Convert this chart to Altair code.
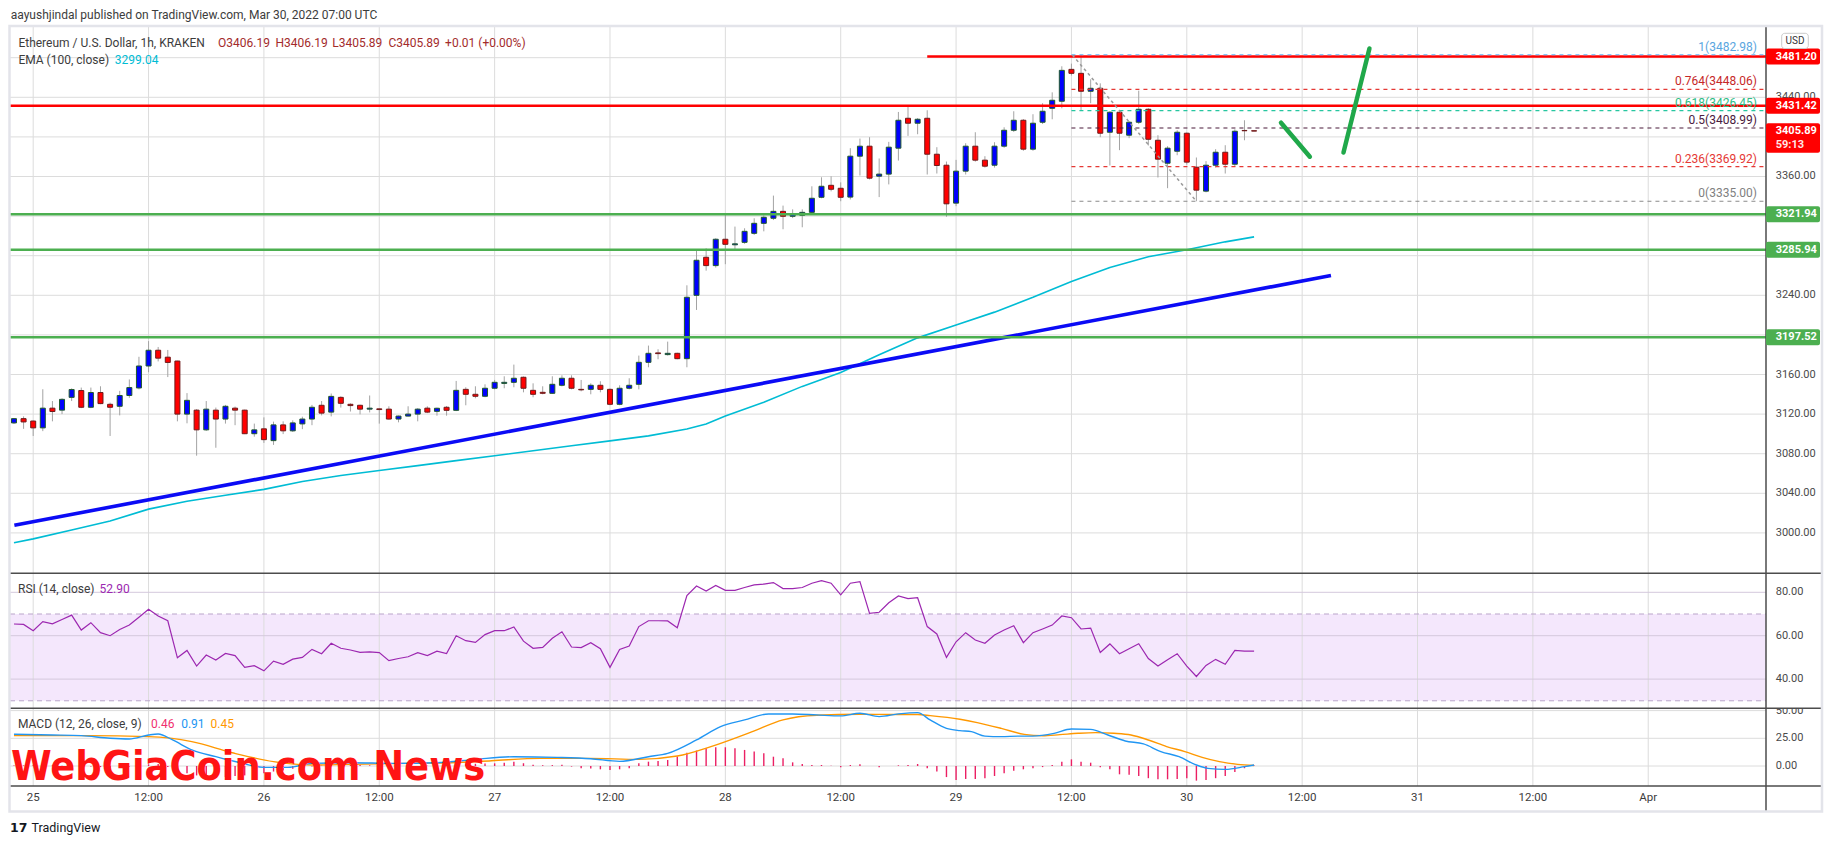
import altair as alt
import pandas as pd

# ---------------- data (hours from Mar 25 00:00 UTC) ----------------
hours = list(range(-2, 128))
opens = [3111.1, 3115.4, 3113.0, 3106.1, 3126.0, 3124.0, 3136.9, 3143.8, 3126.9, 3141.8,
         3129.9, 3127.9, 3138.8, 3146.4, 3168.6, 3184.5, 3177.5, 3173.6, 3120.0, 3124.0,
         3104.1, 3124.0, 3115.0, 3126.0, 3124.0, 3100.2, 3105.1, 3093.2, 3109.1, 3103.1,
         3110.1, 3115.0, 3128.9, 3122.0, 3136.9, 3129.9, 3128.9, 3125.0, 3125.3, 3125.0,
         3115.0, 3118.0, 3120.0, 3126.0, 3122.8, 3126.9, 3123.8, 3145.0, 3140.0, 3138.0,
         3146.1, 3151.0, 3152.1, 3157.2, 3144.0, 3142.0, 3141.0, 3149.1, 3156.2, 3145.0,
         3145.0, 3149.1, 3145.0, 3129.9, 3146.1, 3150.1, 3172.3, 3181.8, 3180.1, 3181.4,
         3176.0, 3240.0, 3278.4, 3270.0, 3296.6, 3291.0, 3293.5, 3302.6, 3312.7, 3317.8,
         3324.8, 3319.8, 3320.8, 3323.8, 3339.0, 3351.1, 3348.1, 3339.2, 3380.5, 3390.6,
         3360.3, 3362.4, 3388.6, 3418.8, 3413.8, 3418.8, 3382.5, 3371.4, 3333.1, 3365.4,
         3390.6, 3376.5, 3371.4, 3390.6, 3406.7, 3416.8, 3387.6, 3414.8, 3428.9, 3436.0,
         3468.2, 3464.2, 3446.1, 3449.1, 3404.7, 3424.9, 3401.7, 3414.8, 3427.9, 3396.6,
         3373.4, 3385.5, 3403.7, 3369.4, 3345.2, 3371.4, 3384.5, 3372.4, 3406.5, 3406.19]
highs = [3116.0, 3117.7, 3113.5, 3145.1, 3133.2, 3136.0, 3146.0, 3146.8, 3146.8, 3148.1,
         3131.6, 3143.5, 3155.0, 3177.9, 3193.7, 3187.8, 3184.8, 3173.9, 3141.2, 3125.0,
         3133.2, 3126.6, 3129.3, 3127.6, 3124.5, 3110.4, 3116.7, 3112.4, 3112.7, 3113.7,
         3117.4, 3129.3, 3133.2, 3140.8, 3138.0, 3130.9, 3129.5, 3138.8, 3125.6, 3127.9,
         3118.5, 3127.9, 3126.0, 3127.9, 3126.5, 3128.2, 3153.5, 3147.1, 3148.1, 3150.1,
         3154.5, 3158.2, 3170.0, 3158.0, 3151.1, 3148.1, 3158.2, 3159.2, 3159.2, 3154.5,
         3151.1, 3153.2, 3146.0, 3149.1, 3156.2, 3179.1, 3189.2, 3185.5, 3193.2, 3182.0,
         3250.1, 3286.5, 3287.5, 3297.6, 3321.8, 3309.4, 3307.7, 3317.8, 3320.8, 3340.7,
         3330.6, 3326.8, 3326.8, 3350.1, 3359.2, 3360.2, 3354.1, 3388.6, 3398.3, 3399.7,
         3378.2, 3395.0, 3425.2, 3431.6, 3419.0, 3426.9, 3389.6, 3375.1, 3376.8, 3393.6,
         3404.7, 3380.5, 3394.6, 3409.7, 3425.9, 3418.0, 3422.9, 3434.0, 3445.0, 3471.3,
         3474.0, 3482.98, 3458.2, 3454.1, 3426.0, 3426.0, 3415.8, 3446.7, 3429.0, 3401.7,
         3390.6, 3406.7, 3404.5, 3379.2, 3375.5, 3387.6, 3391.6, 3407.7, 3416.8, 3406.19]
lows = [3110.0, 3105.1, 3097.9, 3102.8, 3112.7, 3120.0, 3133.2, 3126.0, 3126.0, 3130.0,
        3097.9, 3118.7, 3136.5, 3145.0, 3162.3, 3173.2, 3157.4, 3112.7, 3110.7, 3078.0,
        3103.0, 3086.0, 3110.4, 3108.8, 3099.8, 3097.2, 3090.9, 3088.9, 3099.8, 3102.0,
        3104.8, 3108.8, 3118.7, 3117.7, 3126.6, 3122.6, 3119.7, 3121.7, 3110.4, 3114.4,
        3111.7, 3117.7, 3112.7, 3121.0, 3118.4, 3118.4, 3123.0, 3128.9, 3136.0, 3137.0,
        3145.0, 3146.1, 3147.1, 3142.0, 3137.0, 3140.0, 3140.5, 3148.0, 3145.0, 3143.0,
        3140.0, 3142.0, 3128.9, 3128.9, 3145.0, 3145.0, 3167.3, 3175.4, 3179.1, 3175.4,
        3167.3, 3225.2, 3264.9, 3268.0, 3271.4, 3286.5, 3292.0, 3301.0, 3304.6, 3316.0,
        3306.7, 3318.0, 3308.7, 3322.0, 3338.0, 3345.0, 3335.0, 3336.8, 3361.0, 3357.0,
        3339.2, 3352.0, 3376.1, 3401.0, 3402.7, 3362.0, 3363.0, 3319.3, 3330.0, 3362.0,
        3375.0, 3369.0, 3369.0, 3389.0, 3405.0, 3386.0, 3386.0, 3413.0, 3417.8, 3428.9,
        3462.0, 3426.9, 3434.0, 3399.7, 3371.1, 3386.6, 3398.7, 3413.0, 3391.3, 3359.0,
        3348.2, 3381.5, 3372.0, 3335.0, 3344.0, 3369.0, 3363.0, 3370.0, 3396.6, 3405.89]
closes = [3115.4, 3112.1, 3106.1, 3126.0, 3122.6, 3134.9, 3144.8, 3126.9, 3141.8, 3130.6,
          3126.9, 3138.8, 3146.8, 3168.6, 3184.5, 3176.5, 3172.2, 3120.0, 3133.9, 3104.1,
          3125.0, 3115.0, 3127.9, 3124.0, 3100.2, 3104.1, 3094.2, 3109.1, 3103.1, 3111.1,
          3115.0, 3126.9, 3121.0, 3137.9, 3130.9, 3128.6, 3125.0, 3126.0, 3124.6, 3115.0,
          3118.0, 3120.0, 3125.0, 3122.0, 3125.9, 3123.8, 3144.0, 3140.0, 3138.0, 3146.1,
          3152.1, 3152.1, 3156.2, 3146.1, 3140.0, 3141.0, 3150.1, 3156.2, 3146.1, 3144.5,
          3149.1, 3145.0, 3129.9, 3146.1, 3149.1, 3172.3, 3181.4, 3181.1, 3181.4, 3176.0,
          3238.0, 3275.4, 3270.0, 3296.6, 3291.5, 3292.0, 3304.6, 3312.7, 3318.8, 3324.8,
          3319.8, 3321.8, 3323.8, 3338.0, 3350.1, 3347.1, 3339.0, 3380.5, 3390.6, 3358.3,
          3362.4, 3389.6, 3416.8, 3413.8, 3417.8, 3382.5, 3371.1, 3332.4, 3365.4, 3390.6,
          3376.5, 3370.4, 3390.6, 3406.7, 3416.8, 3387.6, 3413.8, 3425.9, 3437.0, 3467.2,
          3464.2, 3446.1, 3449.1, 3403.7, 3424.9, 3403.7, 3414.8, 3427.9, 3397.6, 3377.5,
          3388.6, 3404.7, 3374.5, 3346.2, 3371.4, 3384.5, 3372.4, 3405.7, 3406.19, 3405.89]

rsi_values = [65.4, 65.2, 62.3, 66.5, 65.5, 67.5, 69.5, 62.6, 66.0, 61.4,
              60.0, 62.9, 64.9, 68.5, 72.2, 69.1, 66.9, 49.8, 53.2, 46.0,
              51.1, 48.8, 51.8, 50.8, 45.4, 46.2, 43.8, 48.3, 46.8, 49.2,
              50.0, 53.7, 51.7, 56.5, 54.2, 53.4, 52.3, 52.5, 52.2, 48.5,
              49.5, 50.3, 52.2, 50.8, 52.9, 51.8, 60.0, 57.7, 56.9, 60.5,
              62.3, 62.3, 64.0, 57.5, 54.2, 54.6, 58.8, 61.8, 54.8, 54.5,
              56.8, 54.0, 45.4, 53.7, 55.2, 64.2, 66.9, 66.9, 66.8, 63.7,
              78.5, 82.9, 80.6, 83.2, 80.9, 80.9, 82.2, 83.4, 83.8, 84.5,
              81.7, 81.7, 82.2, 84.2, 85.4, 84.2, 78.8, 84.2, 84.9, 70.3,
              70.8, 75.2, 78.3, 77.1, 77.5, 64.2, 60.8, 50.0, 57.2, 61.4,
              58.0, 56.5, 60.3, 62.6, 64.6, 56.8, 61.4, 63.1, 64.9, 69.1,
              68.3, 63.1, 63.5, 52.3, 56.2, 51.7, 54.0, 56.3, 49.5, 46.0,
              48.9, 51.7, 46.0, 41.2, 46.3, 49.1, 46.8, 53.2, 52.9, 52.9]

hist_values = [0.5, 0.5, 0.6, 0.8, 0.5, 0.3, 0.2, 0.0, -0.5, -1.0,
               -1.8, -1.5, -0.5, 0.8, 1.5, 1.8, -1.0, -4.0, -6.5, -8.5,
               -9.5, -10.5, -10.0, -9.0, -8.5, -7.5, -6.5, -5.0, -4.0, -2.5,
               -1.5, -0.5, 0.3, 1.0, 1.2, 1.0, 0.8, 0.6, 0.4, 0.0,
               -0.3, -0.3, 0.0, 0.2, 0.5, 0.8, 1.5, 1.8, 2.0, 2.2,
               2.4, 3.0, 3.9, 2.5, 1.2, 0.6, 0.8, 1.2, -0.5, -2.0,
               -2.2, -3.0, -3.6, -3.0, -2.0, 2.4, 3.9, 4.5, 5.4, 8.5,
               12.0, 13.9, 16.0, 16.9, 16.9, 16.0, 14.5, 13.0, 11.4, 8.4,
               6.9, 3.3, 1.8, 0.9, 0.9, 0.3, -1.2, 0.9, 1.5, 0.0,
               -1.2, 0.0, 0.6, 1.0, 1.8, -2.0, -5.0, -10.0, -12.6, -11.7,
               -11.7, -11.0, -9.0, -6.6, -4.2, -3.0, -2.0, -1.0, 1.0, 3.9,
               6.0, 3.9, 3.0, -1.2, -3.0, -7.5, -8.0, -9.0, -11.0, -12.0,
               -12.0, -11.7, -11.0, -13.2, -12.6, -11.0, -9.0, -5.4, -2.0, 0.46]

macd_h = [-2, 2, 5, 8, 10, 12, 13, 14.5, 16.5, 19, 21.5, 24, 26.5, 29, 33, 37.5, 42, 46, 50,
          54.5, 58, 61, 64, 66, 69, 71.5, 74, 76.5, 79, 81.5, 84, 86, 88, 90, 92, 93.3, 95,
          96.4, 97.6, 99, 100.7, 102.5, 104, 106.2, 108, 110, 111.8, 113.6, 115.5, 117.3,
          119.2, 121, 122.2, 124, 126, 127]
macd_v = [28.6, 28.0, 27.4, 25.0, 24.4, 28.0, 28.9, 23.5, 14.5, 8.4, 3.0, -1.2, -1.2, 2.4,
          3.0, 2.4, 3.0, 6.0, 8.4, 7.8, 6.6, 4.2, 8.4, 11.4, 23.5, 35.5, 41.6, 47.0, 47.0,
          46.1, 45.2, 47.6, 44.6, 47.0, 48.2, 41.6, 34.0, 31.9, 31.0, 27.0, 26.5, 27.0,
          27.0, 29.5, 33.4, 33.1, 28.0, 22.6, 19.9, 13.0, 8.4, 0.9, -2.1, -3.0, -0.6, 0.91]
sig_h = [-2, 5.5, 12, 16.5, 20.7, 25, 29, 33, 39, 43.5, 47.7, 52.8, 58, 63, 67, 70.5, 74.8,
         78, 81.5, 86, 90, 92, 93.3, 96.4, 98.2, 100.7, 103.1, 105, 106.8, 108.7, 110.5,
         112.4, 114.2, 116, 117.9, 119.8, 121.6, 123.4, 125.3, 127]
sig_v = [27.4, 27.4, 26.5, 22.0, 12.0, 3.9, 0.9, 1.5, 2.4, 3.0, 4.8, 6.9, 6.9, 6.0, 9.0,
         17.5, 31.0, 41.6, 45.8, 46.7, 46.5, 46.5, 45.5, 42.2, 39.2, 34.0, 28.5, 27.3, 28.3,
         29.5, 30.1, 29.5, 28.0, 23.5, 17.5, 13.0, 7.8, 3.9, 1.5, 0.45]

ema_h = [-2, 0, 4, 8, 12, 16, 20, 24, 28, 32, 36, 40, 44, 48, 52, 56, 60, 64, 68, 70, 72, 76,
         80, 84, 88, 92, 96, 100, 104, 108, 112, 116, 120, 124, 127]
ema_v = [2990, 2994, 3003, 3012, 3024, 3032, 3038, 3044, 3052, 3058, 3063, 3068, 3073, 3078,
         3083, 3088, 3093, 3098, 3105, 3110, 3118, 3132, 3148, 3162, 3180, 3197, 3210, 3223,
         3238, 3254, 3268, 3279, 3286, 3294, 3299.04]

trend_h = [-1.96, 135.0]
trend_p = [3007.7, 3260.0]

arrow_seg = ["down", "down", "up", "up"]
arrow_h = [129.8, 132.8, 136.3, 139.0]
arrow_p = [3414.3, 3380.0, 3384.2, 3489.3]

level_prices = [3431.42, 3321.94, 3285.94, 3197.52]
level_colors = ["#ff0000", "#4caf50", "#4caf50", "#4caf50"]
top_level_price = 3481.20
top_level_start = 93

fib_levels = ["1", "0.764", "0.618", "0.5", "0.236", "0"]
fib_prices = [3482.98, 3448.06, 3426.45, 3408.99, 3369.92, 3335.00]
fib_line_colors = ["#64b5f6", "#e53935", "#26c6a0", "#4a1a3a", "#e53935", "#8a8a8a"]
fib_text_colors = ["#5aa6e0", "#c62828", "#2ebd85", "#4a2040", "#e53935", "#808080"]
fib_start = 108
diag_h = [108.1, 121.0]
diag_p = [3482.7, 3335.0]

price_grid = [3000, 3040, 3080, 3120, 3160, 3200, 3240, 3280, 3320, 3360, 3400, 3440, 3480]
price_tick_labels = [3000, 3040, 3080, 3120, 3160, 3240, 3360, 3440]  # the others sit under tags
rsi_ticks = [40, 60, 80]
macd_ticks = [0, 25, 50]
time_ticks = [0, 12, 24, 36, 48, 60, 72, 84, 96, 108, 120, 132, 144, 156, 168]
time_labels = ["25", "12:00", "26", "12:00", "27", "12:00", "28", "12:00", "29", "12:00",
               "30", "12:00", "31", "12:00", "Apr"]

tag_prices = [3481.20, 3431.42, 3321.94, 3285.94, 3197.52]
tag_colors = ["#ff0000", "#ff0000", "#4caf50", "#4caf50", "#4caf50"]
last_price = 3405.89
countdown = "59:13"

# ---------------- layout ----------------
PW, PH = 1813, 785
AX = 1756
FONT = "Roboto"

xs = alt.Scale(domain=[-1.893, 185.66], range=[0, PW], nice=False, zero=False)
ys_main = alt.Scale(domain=[2959.2, 3511.0], range=[546.3, 0], nice=False, zero=False)
ys_rsi = alt.Scale(domain=[26.54, 88.76], range=[681.3, 546.3], nice=False, zero=False)
ys_macd = alt.Scale(domain=[-18.05, 52.08], range=[759, 681.3], nice=False, zero=False)


def X(f):
    return alt.X(f, type="quantitative", scale=xs, axis=None)


def Y(f, s):
    return alt.Y(f, type="quantitative", scale=s, axis=None)


one = pd.DataFrame({"k": [0]})
layers = []


def txt(s, x, y, color="#3c3c3c", size=12, align="left", baseline="middle", font=FONT, **kw):
    return alt.Chart(one).mark_text(text=s, align=align, baseline=baseline, font=font,
                                    fontSize=size, color=color, **kw).encode(
        x=alt.value(x), y=alt.value(y))


candles = pd.DataFrame({"h": hours, "o": opens, "hi": highs, "lo": lows, "c": closes})
rsi_df = pd.DataFrame({"h": hours, "v": rsi_values})
hist_df = pd.DataFrame({"h": hours, "v": hist_values, "z": [0] * len(hours)})
macd_df = pd.DataFrame({"h": macd_h, "v": macd_v})
sig_df = pd.DataFrame({"h": sig_h, "v": sig_v})
ema_df = pd.DataFrame({"h": ema_h, "v": ema_v})
trend_df = pd.DataFrame({"h": trend_h, "v": trend_p})
arrow_df = pd.DataFrame({"s": arrow_seg, "h": arrow_h, "v": arrow_p})
lvl_df = pd.DataFrame({"v": level_prices, "col": level_colors})
top_df = pd.DataFrame({"h": [top_level_start], "v": [top_level_price]})
fib_df = pd.DataFrame({"h": [fib_start] * 6, "v": fib_prices, "lc": fib_line_colors,
                       "tc": fib_text_colors,
                       "t": [f"{l}({p:.2f})" for l, p in zip(fib_levels, fib_prices)]})
diag_df = pd.DataFrame({"h": diag_h, "v": diag_p})
pg_df = pd.DataFrame({"v": price_grid})
pt_df = pd.DataFrame({"v": price_tick_labels, "t": [f"{v:.2f}" for v in price_tick_labels]})
rt_df = pd.DataFrame({"v": rsi_ticks, "t": [f"{v:.2f}" for v in rsi_ticks]})
mt_df = pd.DataFrame({"v": macd_ticks, "t": [f"{v:.2f}" for v in macd_ticks]})
tt_df = pd.DataFrame({"h": time_ticks, "t": time_labels})
tag_df = pd.DataFrame({"v": tag_prices, "col": tag_colors, "t": [f"{v:.2f}" for v in tag_prices]})
last_df = pd.DataFrame({"v": [last_price], "t": [f"{last_price:.2f}"], "cd": [countdown]})
band_df = pd.DataFrame({"a": [70], "b": [30]})
ob_df = pd.DataFrame({"v": [70, 30]})

GRID = "#dcdcdc"

# RSI band
layers.append(alt.Chart(band_df).mark_rect(color="#c07af0", opacity=0.18).encode(
    x=alt.value(0), x2=alt.value(AX), y=Y("a", ys_rsi), y2="b:Q"))
# vertical grid
layers.append(alt.Chart(tt_df).mark_rule(color=GRID, strokeWidth=1).encode(
    x=X("h"), y=alt.value(0), y2=alt.value(759)))
# horizontal grids
layers.append(alt.Chart(pg_df).mark_rule(color=GRID, strokeWidth=1).encode(
    x=alt.value(0), x2=alt.value(AX), y=Y("v", ys_main)))
layers.append(alt.Chart(rt_df).mark_rule(color="#d4c8dc", strokeWidth=1).encode(
    x=alt.value(0), x2=alt.value(AX), y=Y("v", ys_rsi)))
layers.append(alt.Chart(mt_df).mark_rule(color=GRID, strokeWidth=1).encode(
    x=alt.value(0), x2=alt.value(AX), y=Y("v", ys_macd)))
layers.append(alt.Chart(ob_df).mark_rule(color="#b9a5c9", strokeWidth=1, strokeDash=[5, 4]).encode(
    x=alt.value(0), x2=alt.value(AX), y=Y("v", ys_rsi)))

# EMA and trend line
layers.append(alt.Chart(ema_df).mark_line(color="#00bcd4", strokeWidth=1.6, clip=True).encode(
    x=X("h"), y=Y("v", ys_main)))
layers.append(alt.Chart(trend_df).mark_line(color="#0b0bf5", strokeWidth=3.6, clip=True).encode(
    x=X("h"), y=Y("v", ys_main)))

# candles
up = alt.datum.c >= alt.datum.o
layers.append(alt.Chart(candles).mark_rule(color="#a3a3a3", strokeWidth=1, clip=True).encode(
    x=X("h"), y=Y("lo", ys_main), y2="hi:Q"))
layers.append(alt.Chart(candles).mark_bar(size=5, strokeWidth=1, clip=True, orient="vertical").encode(
    x=X("h"), y=Y("o", ys_main), y2="c:Q",
    fill=alt.when(up).then(alt.value("#0000ff")).otherwise(alt.value("#ff0000")),
    stroke=alt.when(up).then(alt.value("#1f5a2a")).otherwise(alt.value("#6e1a1a"))))

# horizontal levels
layers.append(alt.Chart(lvl_df).mark_rule(strokeWidth=2.5).encode(
    x=alt.value(0), x2=alt.value(AX), y=Y("v", ys_main), color=alt.Color("col:N", scale=None)))
layers.append(alt.Chart(top_df).mark_rule(strokeWidth=2.5, color="#ff0000").encode(
    x=X("h"), x2=alt.value(AX), y=Y("v", ys_main)))

# fibonacci
layers.append(alt.Chart(fib_df).mark_rule(strokeWidth=1.2, strokeDash=[4, 4]).encode(
    x=X("h"), x2=alt.value(AX), y=Y("v", ys_main), color=alt.Color("lc:N", scale=None)))
layers.append(alt.Chart(diag_df).mark_line(strokeWidth=1.5, strokeDash=[3, 3], color="#9a9a9a").encode(
    x=X("h"), y=Y("v", ys_main)))
layers.append(alt.Chart(fib_df).mark_text(align="right", baseline="middle", dy=-8, font=FONT,
                                          fontSize=12).encode(
    x=alt.value(AX - 9), y=Y("v", ys_main), text="t:N", color=alt.Color("tc:N", scale=None)))

# green arrows
layers.append(alt.Chart(arrow_df).mark_line(strokeWidth=4.5, strokeCap="round", color="#20a84a").encode(
    x=X("h"), y=Y("v", ys_main), detail="s:N"))

# RSI
layers.append(alt.Chart(rsi_df).mark_line(color="#9c27b0", strokeWidth=1.2, clip=True).encode(
    x=X("h"), y=Y("v", ys_rsi)))

# MACD
layers.append(alt.Chart(hist_df).mark_rule(color="#eb1f63", strokeWidth=1.4, clip=True).encode(
    x=X("h"), y=Y("v", ys_macd), y2="z:Q"))
layers.append(alt.Chart(sig_df).mark_line(color="#ff9800", strokeWidth=1.4, clip=True,
                                          interpolate="monotone").encode(
    x=X("h"), y=Y("v", ys_macd)))
layers.append(alt.Chart(macd_df).mark_line(color="#2196f3", strokeWidth=1.4, clip=True,
                                           interpolate="monotone").encode(
    x=X("h"), y=Y("v", ys_macd)))

# watermark
layers.append(txt("WebGiaCoin.com News", 1, 753, color="#ff1414", size=41, baseline="alphabetic",
                  font="Liberation Sans Narrow, DejaVu Sans Condensed, sans-serif",
                  fontWeight="bold"))

# axis labels
layers.append(alt.Chart(pt_df).mark_text(align="left", baseline="middle", font=FONT, fontSize=11,
                                         color="#4a4a4a").encode(
    x=alt.value(AX + 9.7), y=Y("v", ys_main), text="t:N"))
layers.append(alt.Chart(rt_df).mark_text(align="left", baseline="middle", font=FONT, fontSize=11,
                                         color="#4a4a4a").encode(
    x=alt.value(AX + 9.7), y=Y("v", ys_rsi), text="t:N"))
layers.append(alt.Chart(mt_df).mark_text(align="left", baseline="middle", font=FONT, fontSize=11,
                                         color="#4a4a4a").encode(
    x=alt.value(AX + 9.7), y=Y("v", ys_macd), text="t:N"))
# hide the top half of the clipped "50.00" label
layers.append(alt.Chart(one).mark_rect(color="white").encode(
    x=alt.value(AX + 1), x2=alt.value(PW - 2), y=alt.value(672), y2=alt.value(681.3)))
layers.append(alt.Chart(tt_df).mark_text(align="center", baseline="middle", font=FONT, fontSize=11.5,
                                         color="#3c3c3c").encode(
    x=X("h"), y=alt.value(771), text="t:N"))

# separators / axis line / frame
for yv in [546.3, 681.3, 759]:
    layers.append(alt.Chart(one).mark_rule(color="#4d4d4d", strokeWidth=1.5).encode(
        x=alt.value(0), x2=alt.value(PW), y=alt.value(yv)))
layers.append(alt.Chart(one).mark_rule(color="#4d4d4d", strokeWidth=1.5).encode(
    x=alt.value(AX), y=alt.value(0), y2=alt.value(785)))
layers.append(alt.Chart(one).mark_rect(fill="transparent", stroke="#e3e4ea", strokeWidth=2.5).encode(
    x=alt.value(-0.5), x2=alt.value(PW - 1), y=alt.value(-1), y2=alt.value(784.5)))

# price tags
layers.append(alt.Chart(tag_df).mark_rect(yOffset=-8, y2Offset=8, cornerRadius=2).encode(
    x=alt.value(AX), x2=alt.value(AX + 54), y=Y("v", ys_main), y2="v:Q",
    color=alt.Color("col:N", scale=None)))
layers.append(alt.Chart(tag_df).mark_text(align="left", baseline="middle", font=FONT, fontSize=11,
                                          fontWeight="bold", color="white").encode(
    x=alt.value(AX + 9.7), y=Y("v", ys_main), text="t:N"))
layers.append(alt.Chart(last_df).mark_rect(yOffset=-7.8, y2Offset=21.6, cornerRadius=2,
                                           color="#ff0000").encode(
    x=alt.value(AX), x2=alt.value(AX + 54), y=Y("v", ys_main), y2="v:Q"))
layers.append(alt.Chart(last_df).mark_text(align="left", baseline="middle", font=FONT, fontSize=11,
                                           fontWeight="bold", color="white").encode(
    x=alt.value(AX + 9.7), y=Y("v", ys_main), text="t:N"))
layers.append(alt.Chart(last_df).mark_text(align="left", baseline="middle", font=FONT, fontSize=11,
                                           fontWeight="bold", color="#ffe5e5", dy=14).encode(
    x=alt.value(AX + 9.7), y=Y("v", ys_main), text="cd:N"))
# USD box
layers.append(alt.Chart(one).mark_rect(fill="white", stroke="#c9c9c9", strokeWidth=1, cornerRadius=3).encode(
    x=alt.value(1771.7), x2=alt.value(1798.3), y=alt.value(6.3), y2=alt.value(21.5)))
layers.append(txt("USD", 1785, 14, color="#333333", size=10, align="center"))

# legends / header / footer
layers.append(txt("aayushjindal published on TradingView.com, Mar 30, 2022 07:00 UTC", 0.7, -12))
layers.append(txt("Ethereum / U.S. Dollar, 1h, KRAKEN", 8.4, 15.5))
ohlc_col = "#a32b2b"
layers.append(txt("O3406.19", 208.1, 15.5, color=ohlc_col))
layers.append(txt("H3406.19", 265.5, 15.5, color=ohlc_col))
layers.append(txt("L3405.89", 322.2, 15.5, color=ohlc_col))
layers.append(txt("C3405.89", 378.4, 15.5, color=ohlc_col))
layers.append(txt("+0.01 (+0.00%)", 435.1, 15.5, color=ohlc_col))
layers.append(txt("EMA (100, close)", 8.4, 33))
layers.append(txt("3299.04", 104.8, 33, color="#00bcd4"))
layers.append(txt("RSI (14, close)", 8, 562.3))
layers.append(txt("52.90", 89.6, 562.3, color="#9c27b0"))
layers.append(txt("MACD (12, 26, close, 9)", 8, 697))
layers.append(txt("0.46", 141, 697, color="#f0306f"))
layers.append(txt("0.91", 171.2, 697, color="#2196f3"))
layers.append(txt("0.45", 200.6, 697, color="#ff9800"))
layers.append(txt("17", 0, 801, color="#131722", size=12.5, font="DejaVu Sans", fontWeight="bold"))
layers.append(txt("TradingView", 21.5, 801, color="#131722", size=12.5))

chart = alt.layer(*layers).resolve_scale(y="independent", x="shared").properties(
    width=PW, height=PH,
    padding={"left": 2, "top": 19, "right": 2, "bottom": 24},
    autosize=alt.AutoSizeParams(type="none"),
).configure(background="white").configure_view(strokeWidth=0)

chart.save("out.html", embed_options={"renderer": "svg", "actions": False})
